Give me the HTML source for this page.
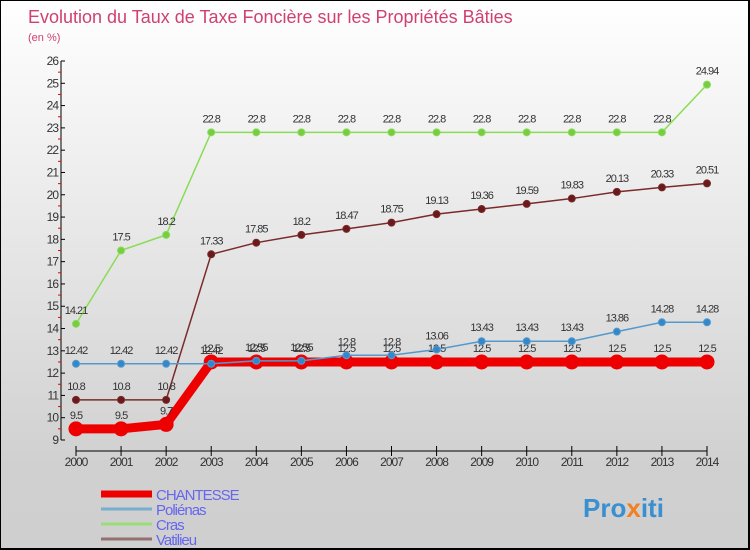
<!DOCTYPE html>
<html><head><meta charset="utf-8"><style>
body{margin:0}
#c{width:750px;height:550px;position:relative;overflow:hidden;background:linear-gradient(#ffffff,#d0d0d0 85%,#cfcfcf);box-sizing:border-box;border:1px solid #000;border-right:2px solid #000;border-bottom:2px solid #000;font-family:"Liberation Sans",sans-serif}
svg text{font-family:"Liberation Sans",sans-serif}
</style></head><body>
<div id="c">
<svg id="s" width="750" height="550">
<text x="27" y="22" font-size="18" fill="#d04070">Evolution du Taux de Taxe Foncière sur les Propriétés Bâties</text>
<text x="27" y="40" font-size="11" fill="#d04070">(en %)</text>
<text x="582" y="516" font-size="26" font-weight="bold" fill="#3a8fd0">Pro<tspan fill="#f08020">x</tspan>iti</text>
</svg>
</div>
<script>
const years=[2000,2001,2002,2003,2004,2005,2006,2007,2008,2009,2010,2011,2012,2013,2014];
const yTicks=[9,10,11,12,13,14,15,16,17,18,19,20,21,22,23,24,25,26];
const chantesse=[9.5,9.5,9.7,12.5,12.5,12.5,12.5,12.5,12.5,12.5,12.5,12.5,12.5,12.5,12.5];
const polienas=[12.42,12.42,12.42,12.42,12.55,12.55,12.8,12.8,13.06,13.43,13.43,13.43,13.86,14.28,14.28];
const cras=[14.21,17.5,18.2,22.8,22.8,22.8,22.8,22.8,22.8,22.8,22.8,22.8,22.8,22.8,24.94];
const vatilieu=[10.8,10.8,10.8,17.33,17.85,18.2,18.47,18.75,19.13,19.36,19.59,19.83,20.13,20.33,20.51];
const seriesNames=["CHANTESSE","Poliénas","Cras","Vatilieu"];
const svg=document.getElementById('s');const NS='http://www.w3.org/2000/svg';
const X=i=>75+i*(706-75)/(years.length-1);
const Y=v=>439-(v-9)*(439-60)/17;
function el(t,a,p){const e=document.createElementNS(NS,t);for(const k in a)e.setAttribute(k,a[k]);(p||svg).appendChild(e);return e;}
let ax=el('line',{x1:60,y1:60,x2:60,y2:439,stroke:'#000'});

yTicks.forEach(v=>{
 el('line',{x1:60,y1:Y(v),x2:64,y2:Y(v),stroke:'#000'});
 if(v<26) el('line',{x1:57,y1:Y(v+0.5),x2:60,y2:Y(v+0.5),stroke:'#e00'});
 const t=el('text',{x:57,y:Y(v)+4,'font-size':12,'text-anchor':'end',fill:'#333','letter-spacing':'-1'});t.textContent=v;
 
});
let xa=el('line',{x1:75,y1:450,x2:706,y2:450,stroke:'#000'});

years.forEach((y,i)=>{
 el('line',{x1:X(i),y1:445,x2:X(i),y2:455,stroke:'#000'});
 const t=el('text',{x:X(i),y:465,'font-size':12,'text-anchor':'middle',fill:'#333','letter-spacing':'-1'});t.textContent=y;
 
});
function series(data,color,w,r,name,dot){
 const g=el('g',{});
 el('polyline',{points:data.map((v,i)=>X(i)+','+Y(v)).join(' '),fill:'none',stroke:color,'stroke-width':w,'stroke-linejoin':'round'},g);
 data.forEach((v,i)=>{
  const c=el('circle',{cx:X(i),cy:Y(v),r:r,fill:dot,stroke:color,'stroke-width':1},g);
  
  const t=el('text',{x:X(i),y:Y(v)-10,'font-size':11,'text-anchor':'middle',fill:'#333','letter-spacing':'-1'},g);t.textContent=v;
  
 });
}
series(chantesse,'#ee0000',9,7,'chantesse','#ee0000');
series(vatilieu,'#7a2a2a',1.5,3.5,'vatilieu','#6a1a1a');
series(cras,'#88dd55',1.5,3.5,'cras','#77cc44');
series(polienas,'#5599cc',1.5,3.5,'polienas','#3388cc');
const lc=['#ee0000','#7aaed0','#99dd77','#947070'],lw=[7,3,3,3];
seriesNames.forEach((n,i)=>{
 const y=493+i*15;
 const l=el('line',{x1:100,y1:y,x2:151,y2:y,stroke:lc[i],'stroke-width':lw[i]});
 
 const t=el('text',{x:155,y:y+6,'font-size':15,fill:'#6666ee','letter-spacing':'-1'});t.textContent=n;
 
});
</script>
</body></html>
